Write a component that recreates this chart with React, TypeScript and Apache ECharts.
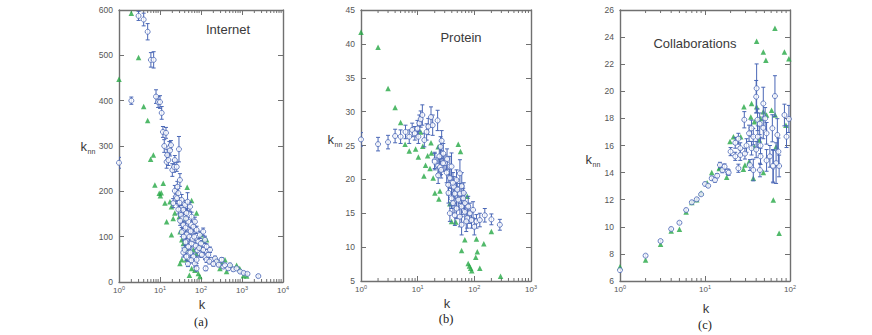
import React, { useEffect, useRef } from 'react';
import * as echarts from 'echarts';

// ---------- data: [k, knn, error] for circles, [k, knn] for triangles ----------
const internetCircles: [number, number, number][] = [
  [1, 263, 12], [2, 400, 8], [3, 587, 10], [4, 579, 14], [5, 552, 18], [6, 490, 16], [7, 490, 18],
  [8, 409, 15], [9, 397, 12], [10, 397, 14], [11, 373, 14], [11.8, 331, 12], [12.7, 300, 14],
  [14, 329, 12], [14.5, 265, 14], [15, 280, 12], [16, 269, 12], [16.9, 296, 14], [17.5, 290, 12],
  [18.5, 302, 10], [20, 247, 14], [22, 254, 12], [23, 269, 10], [25.6, 254, 10], [29, 293, 28],
  [21, 174, 10], [23, 201, 12], [24.5, 188, 10], [26.5, 210, 12], [28, 196, 10], [30.6, 225, 14],
  [32.5, 148, 10], [33.7, 181, 12], [37, 159, 10], [37, 126, 8], [37, 65, 10], [40, 71, 10],
  [40.7, 170, 10], [44, 152, 10], [44, 56, 8], [47, 177, 20], [49, 133, 10], [49, 78, 8],
  [54, 166, 10], [59, 144, 10], [59, 85, 8], [65, 122, 10], [65, 56, 8], [71, 133, 10], [71, 41, 8],
  [78, 115, 8], [78, 49, 8], [78, 30, 6], [86, 89, 8], [94, 104, 8], [94, 63, 8], [113, 111, 8],
  [113, 71, 6], [125, 93, 8], [125, 56, 6], [130, 30, 5], [137, 78, 6], [137, 49, 6], [166, 71, 6],
  [183, 49, 5], [220, 52, 5], [240, 45, 5], [320, 49, 5], [350, 34, 4], [385, 37, 4], [460, 30, 4],
  [510, 37, 4], [615, 28, 4], [740, 30, 3], [900, 23, 3], [1100, 20, 3], [1360, 18, 3], [2500, 13, 3],
  [35, 140, 10], [42, 120, 10], [45, 105, 10], [52, 100, 10], [56, 112, 8], [62, 95, 8], [68, 100, 8],
  [75, 80, 8], [82, 70, 6], [90, 75, 6], [100, 85, 6], [105, 60, 6], [150, 60, 6], [160, 45, 5],
  [200, 40, 5], [28, 160, 10], [31, 135, 10], [34, 110, 10], [38, 100, 8], [42, 88, 8], [55, 65, 8],
  [58, 48, 6], [48, 40, 6], [270, 38, 4], [30, 175, 10], [26, 185, 12], [43, 140, 10],
];
const internetTriangles: [number, number][] = [
  [1, 447], [2, 593], [3, 495], [4, 387], [5, 356], [5.9, 271], [6.9, 280], [7.5, 214], [9.6, 196],
  [10.2, 190], [10.7, 197], [12, 218], [13.2, 174], [14.5, 133], [17.5, 177], [19, 166], [19, 104],
  [21, 140], [23, 152], [29.5, 144], [31, 111], [34, 93], [30.6, 41], [34, 49], [37, 85], [40, 140],
  [42, 74], [44, 49], [46, 209], [52, 15], [59, 30], [59, 180], [65, 71], [71, 26], [78, 63], [78, 152],
  [86, 19], [94, 12], [94, 74], [100, 104], [113, 93], [137, 93], [240, 49], [290, 30], [320, 41],
  [385, 49], [420, 23], [530, 37], [740, 37], [880, 30], [1080, 14], [1300, 13],
];

const proteinCircles: [number, number, number][] = [
  [1, 25.9, 1.0], [2, 25.2, 1.0], [3, 25.5, 1.0], [4, 26.4, 1.0], [5, 26.3, 1.0], [6.1, 27.0, 1.0],
  [7.1, 26.3, 1.0], [8, 27.3, 1.0], [8.9, 26.8, 1.0], [9.9, 27.5, 1.2], [10.3, 26.3, 1.0],
  [10.7, 28.3, 1.2], [11.3, 28.9, 1.2], [12.1, 29.5, 1.5], [13.1, 25.8, 1.0], [14.4, 27.0, 1.2],
  [15.4, 27.8, 1.2], [17.2, 29.2, 1.5], [18.4, 28.0, 1.5], [22.5, 28.7, 1.5], [20, 22.8, 1.2],
  [23, 22.0, 1.2], [24.1, 23.4, 1.2], [25.4, 24.8, 1.5], [26.5, 25.7, 1.5], [28.3, 23.8, 1.5],
  [30.3, 22.4, 1.2], [25.8, 21.9, 1.2], [37, 21.9, 1.5], [20, 22.6, 1.2], [24.7, 21.8, 1.2],
  [28, 22.4, 1.2], [23, 20.6, 1.2], [32.5, 21.0, 1.5], [37, 20.2, 1.5], [39.6, 21.9, 2.0],
  [34.6, 19.2, 1.5], [43.5, 18.9, 1.5], [48.6, 19.9, 1.5], [55.7, 20.9, 2.0], [45.3, 17.9, 1.5],
  [39.6, 17.2, 1.5], [55.7, 17.9, 1.5], [52, 17.0, 1.5], [63.6, 17.2, 1.5], [68, 16.5, 1.5],
  [59.6, 16.0, 1.5], [48.6, 15.7, 1.5], [37, 15.0, 1.2], [45.3, 14.7, 1.5], [55.7, 14.5, 1.5],
  [68, 15.2, 1.5], [83.6, 15.0, 1.5], [75, 14.3, 1.5], [59.6, 13.3, 1.5], [72, 13.8, 1.5],
  [89, 14.0, 1.2], [109, 13.8, 1.0], [125, 14.0, 1.0], [153, 14.7, 1.0], [200, 14.1, 0.8],
  [282, 13.3, 0.8], [26, 21.4, 1.2], [33, 23.0, 1.5], [42, 19.5, 1.5], [50, 18.5, 1.5],
  [60, 19.0, 2.0], [65, 18.0, 1.5], [78, 16.0, 1.5], [95, 15.5, 1.2], [100, 13.0, 1.2],
  [35, 18.0, 1.5], [42, 16.5, 1.5],
];
const proteinTriangles: [number, number][] = [
  [1, 41.7], [2, 39.5], [3, 33.4], [4, 30.6], [5, 28.4], [6, 25.2], [7.1, 24.2], [9.2, 24.5],
  [10.3, 23.3], [11.3, 27.0], [12.3, 24.9], [12.9, 20.5], [13.8, 22.1], [15, 23.5], [16.5, 21.6],
  [17.2, 25.4], [17.5, 23.9], [18.8, 20.2], [20.1, 18.0], [23, 24.8], [23.7, 17.1], [24.7, 18.3],
  [37, 16.4], [39.6, 13.8], [47, 13.7], [52, 25.2], [57, 24.1], [59.6, 9.5], [68, 11.1], [75, 17.5],
  [78, 7.6], [82, 7.2], [86, 6.9], [90, 6.5], [106, 8.5], [109, 11.2], [113, 9.3], [125, 6.9],
  [147, 10.5], [200, 12.3], [290, 5.7],
];

const collabCircles: [number, number, number][] = [
  [1, 6.8, 0.1], [2, 7.87, 0.1], [3, 8.95, 0.1], [4, 9.84, 0.1], [5, 10.3, 0.1], [6, 11.24, 0.1],
  [7, 11.81, 0.1], [8, 12.03, 0.1], [9, 12.4, 0.1], [10, 13.16, 0.1], [10.9, 13.03, 0.1],
  [12, 13.58, 0.15], [13.1, 13.45, 0.15], [13.9, 13.77, 0.15], [15, 14.56, 0.2], [16, 14.19, 0.2],
  [17, 14.44, 0.2], [18.5, 14.07, 0.2], [19, 14.0, 0.2], [24.7, 14.32, 0.3], [33.8, 14.56, 0.4],
  [37, 14.19, 0.8], [44.3, 14.19, 0.5], [63.6, 14.44, 1.2], [74.5, 14.49, 0.8], [40.5, 20.22, 1.8],
  [40, 19.6, 1.2], [66.5, 19.65, 1.5], [48.5, 19.1, 1.2], [29, 17.9, 0.6], [35.3, 17.27, 0.6],
  [41.5, 17.9, 0.8], [51, 18.0, 0.8], [86, 18.25, 0.8], [97, 17.96, 1.0], [91, 16.65, 0.8],
  [71, 16.78, 1.2], [62, 17.27, 1.0], [48.5, 17.3, 0.8], [44, 17.6, 0.8], [33, 16.9, 0.6],
  [37, 16.65, 0.6], [41.8, 16.65, 0.8], [53, 16.9, 0.8], [30.8, 16.0, 0.5], [24.7, 16.5, 0.4],
  [22.7, 16.2, 0.4], [26, 15.8, 0.4], [20, 15.55, 0.3], [22.7, 15.2, 0.3], [26, 15.3, 0.4],
  [29.5, 15.4, 0.4], [35.3, 15.8, 0.5], [40, 15.7, 0.6], [45, 16.0, 0.6], [58, 15.2, 0.8],
  [73, 15.55, 1.0], [68.6, 14.7, 1.5], [63, 14.5, 1.2], [53, 14.9, 0.8], [45, 15.2, 0.6],
];
const collabTriangles: [number, number][] = [
  [1, 7.06], [2, 7.55], [3, 8.71], [4, 9.69], [5, 9.81], [6, 11.1], [7, 11.8], [8, 12.0], [9, 12.5],
  [10.6, 13.25], [12, 14.0], [14.7, 14.3], [15, 14.4], [18, 13.65], [19.7, 16.3], [21.6, 16.65],
  [26.3, 16.65], [28.3, 14.24], [28.7, 18.86], [29.5, 14.56], [33, 14.8], [34.6, 18.1], [35.3, 19.1],
  [37, 13.58], [38, 17.75], [38, 15.9], [40.5, 18.86], [40.5, 23.7], [41.8, 17.9], [43.7, 16.4],
  [45, 18.0], [48.5, 22.9], [48.5, 18.5], [48.6, 14.0], [52, 22.3], [53, 18.25], [60.7, 18.6],
  [63.6, 11.98], [66.5, 24.65], [67, 18.25], [68.6, 15.9], [74.5, 9.52], [86, 22.9], [89.6, 17.5],
  [97, 22.4],
];

const panelTitles = ['Internet', 'Protein', 'Collaborations'];
const panelCaptions = ['(a)', '(b)', '(c)'];
const xRanges: [number, number][] = [[1, 10000], [1, 1000], [1, 100]];
const yRanges: [number, number, number][] = [[0, 600, 100], [5, 45, 5], [6, 26, 2]];

const BLUE = '#4a67b6';
const GREEN = '#25a745';
const AXIS = '#707070';
const LABEL = '#555555';
const TEXT = '#3a3a3a';
const SANS = '"Liberation Sans", Arial, sans-serif';
const SERIF = '"Liberation Serif", "Times New Roman", serif';

const layout = [
  { left: 119, top: 10, width: 164, height: 272, title: [228, 29], knn: [87, 146], k: [202, 304], cap: [201, 322] },
  { left: 361, top: 10, width: 170, height: 271, title: [461, 37], knn: [334, 139], k: [447, 303], cap: [446, 319] },
  { left: 620, top: 10, width: 170, height: 271, title: [695, 43], knn: [592, 159], k: [706, 308], cap: [705, 325] },
];

function minorValues(min: number, max: number): number[] {
  const out: number[] = [];
  for (let d = min; d < max; d *= 10) {
    for (let m = 2; m <= 9; m++) out.push(d * m);
  }
  return out;
}

export default function App() {
  const ref = useRef<HTMLDivElement>(null);
  useEffect(() => {
    if (!ref.current) return;
    const chart = echarts.init(ref.current, undefined, { renderer: 'svg' });
    const circles = [internetCircles, proteinCircles, collabCircles];
    const triangles = [internetTriangles, proteinTriangles, collabTriangles];

    const grid: any[] = [];
    const xAxis: any[] = [];
    const yAxis: any[] = [];
    const series: any[] = [];
    const graphic: any[] = [];

    layout.forEach((L, i) => {
      const [xMin, xMax] = xRanges[i];
      const [yMin, yMax, yInt] = yRanges[i];
      grid.push({ left: L.left, top: L.top, width: L.width, height: L.height, containLabel: false });
      const axisLine = { show: true, onZero: false, lineStyle: { color: AXIS, width: 1.4 } };
      const axisTick = { show: true, inside: true, length: 5, lineStyle: { color: AXIS, width: 1 } };
      xAxis.push({
        type: 'log', logBase: 10, min: xMin, max: xMax, gridIndex: i, position: 'bottom',
        axisLine, axisTick, splitLine: { show: false },
        axisLabel: {
          color: LABEL, fontSize: 8, fontFamily: SANS, margin: 3,
          formatter: (v: number) => '10{s|' + Math.round(Math.log10(v)) + '}',
          rich: { s: { fontSize: 5.5, fontFamily: SANS, color: LABEL, verticalAlign: 'top', padding: [0, 0, 5, 0] } },
        },
      });
      xAxis.push({
        type: 'log', logBase: 10, min: xMin, max: xMax, gridIndex: i, position: 'top',
        axisLine, axisTick, splitLine: { show: false }, axisLabel: { show: false },
      });
      yAxis.push({
        type: 'value', min: yMin, max: yMax, interval: yInt, gridIndex: i, position: 'left',
        axisLine, axisTick, splitLine: { show: false },
        axisLabel: { color: LABEL, fontSize: 8.5, fontFamily: SANS, margin: 6 },
      });
      yAxis.push({
        type: 'value', min: yMin, max: yMax, interval: yInt, gridIndex: i, position: 'right',
        axisLine, axisTick, splitLine: { show: false }, axisLabel: { show: false },
      });
      const xi = i * 2;
      const yi = i * 2;
      // minor ticks (bottom & top) at 2..9 x 10^n
      series.push({
        type: 'custom', xAxisIndex: xi, yAxisIndex: yi, silent: true, clip: false,
        data: minorValues(xMin, xMax).map((v) => [v, yMin]),
        renderItem: (_p: any, api: any) => {
          const k = api.value(0);
          const b = api.coord([k, yMin]);
          const t = api.coord([k, yMax]);
          const st = { stroke: AXIS, lineWidth: 1 };
          return {
            type: 'group', children: [
              { type: 'line', shape: { x1: b[0], y1: b[1], x2: b[0], y2: b[1] - 3 }, style: st },
              { type: 'line', shape: { x1: t[0], y1: t[1], x2: t[0], y2: t[1] + 3 }, style: st },
            ],
          };
        },
      });
      series.push({
        type: 'scatter', xAxisIndex: xi, yAxisIndex: yi, symbol: 'triangle', symbolSize: 5.5,
        itemStyle: { color: GREEN }, data: triangles[i], clip: true, z: 3,
      });
      series.push({
        type: 'custom', xAxisIndex: xi, yAxisIndex: yi, clip: true, z: 4,
        data: circles[i],
        renderItem: (_p: any, api: any) => {
          const k = api.value(0);
          const v = api.value(1);
          const e = api.value(2);
          const hi = api.coord([k, v + e]);
          const lo = api.coord([k, v - e]);
          const st = { stroke: BLUE, lineWidth: 1 };
          return {
            type: 'group', children: [
              { type: 'line', shape: { x1: hi[0], y1: hi[1], x2: lo[0], y2: lo[1] }, style: st },
              { type: 'line', shape: { x1: hi[0] - 2, y1: hi[1], x2: hi[0] + 2, y2: hi[1] }, style: st },
              { type: 'line', shape: { x1: lo[0] - 2, y1: lo[1], x2: lo[0] + 2, y2: lo[1] }, style: st },
            ],
          };
        },
      });
      series.push({
        type: 'scatter', xAxisIndex: xi, yAxisIndex: yi, symbol: 'circle', symbolSize: 5,
        itemStyle: { color: '#ffffff', borderColor: BLUE, borderWidth: 1 },
        data: circles[i].map((c) => [c[0], c[1]]), clip: true, z: 5,
      });

      graphic.push({
        type: 'text', x: L.title[0], y: L.title[1],
        style: { text: panelTitles[i], fill: TEXT, fontSize: 13, fontFamily: SANS, align: 'center', verticalAlign: 'middle' },
      });
      graphic.push({
        type: 'text', x: L.knn[0], y: L.knn[1],
        style: { text: 'k', fill: TEXT, fontSize: 13, fontFamily: SANS, align: 'right', verticalAlign: 'middle' },
      });
      graphic.push({
        type: 'text', x: L.knn[0] + 0.5, y: L.knn[1] + 5,
        style: { text: 'nn', fill: TEXT, fontSize: 7, fontFamily: SANS, align: 'left', verticalAlign: 'middle' },
      });
      graphic.push({
        type: 'text', x: L.k[0], y: L.k[1],
        style: { text: 'k', fill: TEXT, fontSize: 13, fontFamily: SANS, align: 'center', verticalAlign: 'middle' },
      });
      graphic.push({
        type: 'text', x: L.cap[0], y: L.cap[1],
        style: { text: panelCaptions[i], fill: '#222', fontSize: 12.5, fontFamily: SERIF, align: 'center', verticalAlign: 'middle' },
      });
    });

    chart.setOption({
      animation: false,
      backgroundColor: '#ffffff',
      grid, xAxis, yAxis, series, graphic,
    });
    return () => chart.dispose();
  }, []);
  return <div ref={ref} style={{ position: 'absolute', left: 0, top: 0, width: 872, height: 335 }} />;
}
